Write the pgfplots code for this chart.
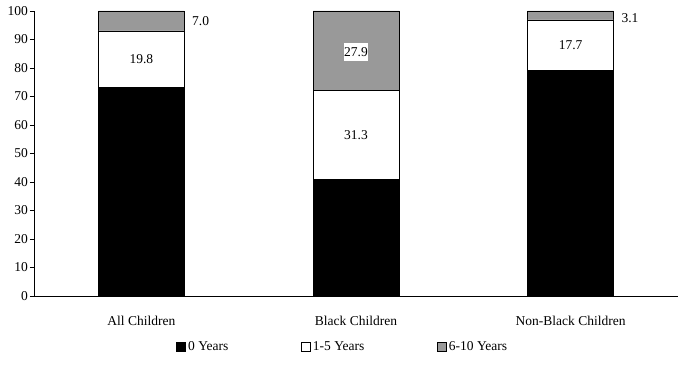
\documentclass[border=0pt]{standalone}
\usepackage{pgfplots}
\pgfplotsset{compat=1.18}
\usepackage{fontspec}
\setmainfont{Liberation Serif}
\definecolor{mygray}{RGB}{153,153,153}
\newcommand{\lf}{\fontsize{13.5bp}{15bp}\selectfont}
\begin{document}
\lf
\begin{tikzpicture}[x=1bp,y=1bp]
\useasboundingbox (-34bp,-72bp) rectangle (657bp,296bp);
\begin{axis}[
  at={(0,0)}, anchor=south west,
  scale only axis,
  width=644bp, height=285bp,
  ybar stacked,
  bar width=86bp,
  xmin=-0.5, xmax=2.5,
  ymin=0, ymax=100,
  ytick={0,10,...,100},
  xtick={0,1,2},
  xticklabels={All Children, Black Children, Non-Black Children},
  extra x ticks={0.5,1.5,2.5},
  extra x tick labels={},
  extra x tick style={major tick length=5bp, tick style={black}},
  axis x line*=bottom,
  axis y line*=left,
  axis line style={-, black},
  tick style={black, line width=0.6pt},
  x tick style={draw=none},
  major tick length=4bp,
  tick align=outside,
  y tick label style={font=\lf, inner xsep=2bp},
  x tick label style={font=\lf, yshift=-11bp},
  /pgf/number format/assume math mode=true,
  legend style={draw=none, at={(axis description cs:0.2205,-0.179)}, anchor=west, legend columns=3,
    inner sep=0pt, font=\lf,
    nodes={inner xsep=2.5bp},
    /tikz/every even column/.append style={column sep=70bp}},
  legend image code/.code={\draw[#1, draw=black, line width=0.5pt] (0bp,-4.5bp) rectangle (9bp,4.5bp);},
  clip=false,
  after end axis/.code={
    \node at (axis cs:0,83.1) {19.8};
    \node at (axis cs:1,56.45) {31.3};
    \node[fill=white, inner xsep=0.5bp, inner ysep=4bp] at (axis cs:1,85.6) {27.9};
    \node at (axis cs:2,88.05) {17.7};
    \node[anchor=west] at (axis cs:0.215,96.3) {7.0};
    \node[anchor=west] at (axis cs:2.215,97.5) {3.1};
  },
]
\addplot[fill=black, draw=black, line width=0.6pt] coordinates {(0,73.2) (1,40.8) (2,79.2)};
\addplot[fill=white, draw=black, line width=0.6pt] coordinates {(0,19.8) (1,31.3) (2,17.7)};
\addplot[fill=mygray, draw=black, line width=0.6pt] coordinates {(0,7.0) (1,27.9) (2,3.1)};
\legend{0 Years, 1-5 Years, 6-10 Years}
\end{axis}
\end{tikzpicture}
\end{document}
